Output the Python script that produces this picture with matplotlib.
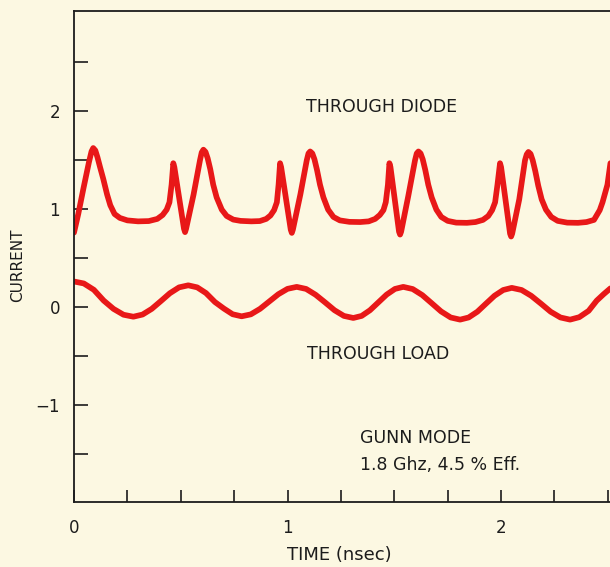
import numpy as np
import matplotlib
matplotlib.use('Agg')
import matplotlib.pyplot as plt

# current through the diode (time in nsec, current)
diode_t = [0.0, 0.02, 0.045, 0.07, 0.082, 0.09, 0.1, 0.11, 0.122, 0.137, 0.155, 0.17, 0.19, 0.215,
           0.25, 0.3, 0.35, 0.39, 0.415, 0.434, 0.447, 0.457, 0.465, 0.47, 0.515, 0.52, 0.525,
           0.56, 0.59, 0.598, 0.606, 0.616, 0.626, 0.638, 0.652, 0.668, 0.692, 0.715, 0.746,
           0.78, 0.83, 0.87, 0.9, 0.92, 0.937, 0.95, 0.958, 0.965, 0.97, 1.015, 1.02, 1.025,
           1.06, 1.09, 1.098, 1.106, 1.116, 1.126, 1.138, 1.152, 1.168, 1.19, 1.215, 1.245,
           1.29, 1.34, 1.38, 1.41, 1.432, 1.449, 1.46, 1.47, 1.477, 1.482, 1.522, 1.527, 1.532,
           1.565, 1.597, 1.605, 1.613, 1.623, 1.633, 1.645, 1.659, 1.675, 1.697, 1.72, 1.75,
           1.79, 1.84, 1.88, 1.915, 1.94, 1.958, 1.972, 1.983, 1.995, 2.0, 2.042, 2.047, 2.052,
           2.085, 2.112, 2.12, 2.128, 2.138, 2.148, 2.16, 2.174, 2.19, 2.21, 2.235, 2.265,
           2.31, 2.36, 2.4, 2.435, 2.462, 2.475, 2.498, 2.512]
diode_i = [0.76, 0.95, 1.22, 1.48, 1.59, 1.625, 1.6, 1.53, 1.43, 1.31, 1.15, 1.04, 0.95, 0.91,
           0.885, 0.875, 0.878, 0.9, 0.94, 0.995, 1.07, 1.25, 1.47, 1.43, 0.8, 0.765, 0.8,
           1.15, 1.5, 1.58, 1.608, 1.585, 1.52, 1.41, 1.25, 1.12, 0.995, 0.93, 0.893,
           0.88, 0.875, 0.878, 0.9, 0.935, 0.99, 1.07, 1.25, 1.47, 1.43, 0.79, 0.757, 0.79,
           1.15, 1.5, 1.57, 1.59, 1.57, 1.51, 1.40, 1.25, 1.12, 0.995, 0.92, 0.885,
           0.87, 0.868, 0.875, 0.9, 0.94, 0.99, 1.07, 1.25, 1.47, 1.43, 0.77, 0.74, 0.77,
           1.13, 1.5, 1.57, 1.59, 1.57, 1.51, 1.40, 1.25, 1.12, 0.995, 0.92, 0.88,
           0.862, 0.86, 0.868, 0.89, 0.93, 0.99, 1.07, 1.25, 1.47, 1.43, 0.75, 0.72, 0.75,
           1.1, 1.5, 1.56, 1.585, 1.565, 1.5, 1.39, 1.24, 1.1, 0.995, 0.92, 0.88,
           0.862, 0.86, 0.868, 0.89, 0.99, 1.07, 1.25, 1.47]

# current through the load
load_t = [0.0, 0.046, 0.093, 0.139, 0.185, 0.232,
          0.278, 0.321, 0.364, 0.407, 0.449, 0.492,
          0.535, 0.577, 0.618, 0.660, 0.702, 0.743,
          0.785, 0.828, 0.871, 0.914, 0.957, 1.0,
          1.043, 1.087, 1.131, 1.176, 1.22, 1.264,
          1.308, 1.347, 1.386, 1.425, 1.464, 1.503,
          1.542, 1.586, 1.631, 1.675, 1.719, 1.764,
          1.808, 1.848, 1.889, 1.929, 1.969, 2.01,
          2.05, 2.096, 2.141, 2.187, 2.232, 2.278,
          2.323, 2.366, 2.41, 2.448, 2.48, 2.512]
load_i = [0.26, 0.24, 0.175, 0.065, -0.02, -0.08,
          -0.10, -0.078, -0.02, 0.06, 0.14, 0.2,
          0.221, 0.2, 0.142, 0.05, -0.017, -0.075,
          -0.096, -0.076, -0.02, 0.055, 0.13, 0.185,
          0.205, 0.184, 0.125, 0.046, -0.034, -0.092,
          -0.113, -0.092, -0.034, 0.046, 0.126, 0.184,
          0.205, 0.183, 0.121, 0.038, -0.046, -0.108,
          -0.13, -0.108, -0.049, 0.033, 0.114, 0.173,
          0.195, 0.173, 0.114, 0.033, -0.049, -0.108,
          -0.13, -0.105, -0.04, 0.065, 0.13, 0.19]

y_major = [-1, 0, 1, 2]
y_minor = [-1.5, -0.5, 0.5, 1.5, 2.5]
x_major = [0, 1, 2]
x_minor = [0.25, 0.5, 0.75, 1.25, 1.5, 1.75, 2.25, 2.5]

bg = '#fcf8e2'
red = '#e81818'
ink = '#1c1c1c'

fig = plt.figure(figsize=(6.1, 5.67), dpi=100, facecolor=bg)
ax = fig.add_axes([0.1213, 0.1138, 0.8787, 0.8674], facecolor=bg)

ax.plot(diode_t, diode_i, color=red, lw=4.1, solid_joinstyle='round', solid_capstyle='round')
ax.plot(load_t, load_i, color=red, lw=4.1, solid_joinstyle='round', solid_capstyle='round')

ax.set_xlim(0, 2.51)
ax.set_ylim(-2.0, 3.03)

for s in ['left', 'bottom', 'top']:
    ax.spines[s].set_linewidth(1.3)
    ax.spines[s].set_color(ink)
ax.spines['right'].set_visible(False)

ax.set_yticks(y_major)
ax.set_yticks(y_minor, minor=True)
ax.set_yticklabels(['\u22121', '0', '1', '2'])
ax.set_xticks(x_major)
ax.set_xticks(x_minor, minor=True)
ax.set_xticklabels(['0', '1', '2'])
ax.tick_params(axis='both', which='both', direction='in', color=ink, width=1.2,
               labelsize=12, labelcolor=ink)
ax.tick_params(axis='y', which='both', length=10, pad=10)
ax.tick_params(axis='x', which='both', length=9, pad=12)

# axis titles placed in figure pixels
W, H = 610, 567
fig.text(18 / W, 1 - 265 / H, 'CURRENT', fontsize=11, color=ink, rotation=90,
         ha='center', va='center')
fig.text(339 / W, 1 - 555 / H, 'TIME (nsec)', fontsize=13, color=ink,
         ha='center', va='center')

ax.text(1.438, 2.04, 'THROUGH DIODE', fontsize=12.5, color=ink, ha='center', va='center')
ax.text(1.426, -0.477, 'THROUGH LOAD', fontsize=12.5, color=ink, ha='center', va='center')
ax.text(1.34, -1.336, 'GUNN MODE', fontsize=12.5, color=ink, ha='left', va='center')
ax.text(1.34, -1.612, '1.8 Ghz, 4.5 % Eff.', fontsize=12.5, color=ink, ha='left', va='center')

fig.savefig('out.png', dpi=100, facecolor=bg)
